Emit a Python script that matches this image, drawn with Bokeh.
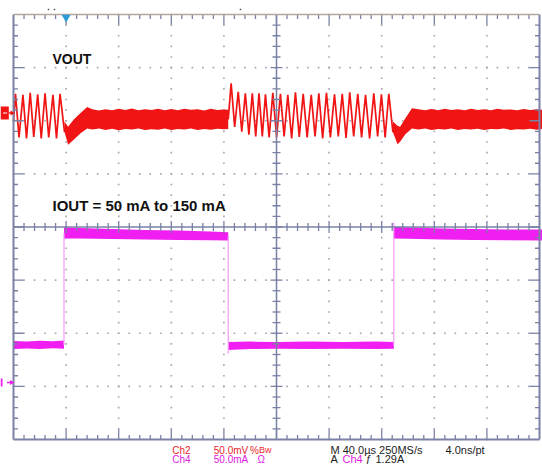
import numpy as np
from bokeh.plotting import figure
from bokeh.embed import file_html
from bokeh.resources import INLINE
from bokeh.core.properties import value

# ---------------- data ----------------
# time axis: µs (M 40.0 µs/div, 10 div); VOUT: mV rel. to Ch2 marker (50 mV/div)
# IOUT: mA rel. to Ch4 marker (50 mA/div)
T_PER_DIV = 40.0
V_PER_DIV = 50.0
I_PER_DIV = 50.0
CH2_POS = 2.146      # Ch2 marker position, divisions from centre
CH4_POS = -2.927     # Ch4 marker position, divisions from centre

# VOUT ripple before the load step (light-load ripple)
vout_rip1_t = [0, 1.5, 4.2, 7.2, 9.9, 12.7, 15.4, 18.4, 21.1, 24.0, 26.8, 30.0, 32.7, 35.4, 38.8]
vout_rip1_v = [-8, 18, -23, 17, -24, 19, -22.5, 17.5, -24, 18.5, -23, 17, -24, 18, -18]

# VOUT noise band after step up (upper / lower envelope)
vout_band1_t = [38.8, 41.5, 46, 51, 56, 60, 65, 70, 75, 80, 85, 90, 95, 100, 105, 110, 115,
                120, 125, 130, 135, 140, 145, 150, 155, 160, 163.3]
vout_band1_hi = [-8, -13, -6, 0, 5.6, 3.5, 2.4, 3.6, 2.6, 3.9, 2.8, 4.2, 2.5, 3.6, 2.9, 4.0, 2.7,
                 3.8, 2.6, 4.1, 3.0, 3.5, 2.4, 3.9, 2.8, 3.4, 3]
vout_band1_lo = [-18, -30, -25, -19, -14.5, -15.5, -14.6, -15.9, -14.8, -16.2, -15.0, -15.6,
                 -14.5, -16.0, -15.2, -15.8, -14.7, -16.1, -15.0, -15.5, -14.6, -15.9, -15.1,
                 -15.7, -14.8, -15.4, -15]

# VOUT overshoot + ripple after step down
vout_rip2_t = [163.3, 165.5, 168.2, 170.9, 173.6, 176.3, 179.0, 181.6, 184.2, 186.7,
               189.2, 191.6, 194.4, 197.2, 200.1, 203.0, 205.8, 208.6, 211.5, 214.4,
               217.3, 220.3, 223.3, 226.4, 229.3, 232.2, 235.1, 238.0, 241.0, 244.1,
               247.0, 250.0, 252.9, 255.7, 258.7, 261.8, 264.7, 267.7, 270.8, 274.0,
               276.9, 279.8, 282.6, 285.4, 288.5]
vout_rip2_v = [-6, 28, -13, 20, -17.5, 18.5, -20.5, 18.5, -22, 18.5,
               -22, 17.5, -23, 19, -23, 18, -22, 17, -24, 19.5,
               -22.5, 18, -23, 17, -22, 18.5, -24, 19, -23, 17.5,
               -22, 18, -23.5, 19.5, -22, 18, -23, 17, -24, 18.5,
               -22, 17.5, -23, 18, -18]

# VOUT noise band after second step up
vout_band2_t = [288.5, 292, 294, 298, 303, 308, 313, 318, 323, 328, 333, 338, 343, 348, 353,
                358, 363, 368, 373, 378, 383, 388, 393, 398, 402.3]
vout_band2_hi = [-8, -12, -13, -5, 4.4, 3.5, 2.6, 3.8, 2.7, 4.0, 2.9, 3.5, 2.5, 3.9, 2.8,
                 3.6, 2.6, 4.1, 3.0, 3.4, 2.7, 3.8, 2.9, 3.5, 3]
vout_band2_lo = [-18, -29.5, -27, -20, -14.5, -15.5, -14.7, -16.0, -15.0, -15.6, -14.6, -16.1,
                 -15.1, -15.5, -14.8, -15.9, -15.0, -15.4, -14.6, -16.0, -15.2, -15.6, -14.9,
                 -15.8, -15]

# IOUT bands (upper / lower envelope of the noisy level), mA
iout_low1_t = [0, 10, 20, 30, 38.4]
iout_low1_hi = [39, 38.5, 39.2, 38.8, 39.5]
iout_low1_lo = [31.5, 32, 31.6, 32.2, 31.8]
iout_high1_t = [38.4, 50, 75, 100, 125, 150, 163.3]
iout_high1_hi = [146, 145.5, 144.5, 143.5, 143, 142, 141.5]
iout_high1_lo = [135.5, 135.5, 135, 134.5, 134, 133.8, 133.6]
iout_low2_t = [163.3, 180, 200, 225, 250, 275, 289.2]
iout_low2_hi = [38, 38.5, 38, 38.5, 38, 38.5, 38.2]
iout_low2_lo = [30.5, 31.5, 31.8, 31.5, 31.8, 31.5, 31.7]
iout_high2_t = [289.2, 300, 325, 350, 375, 402.3]
iout_high2_hi = [146.5, 146, 145, 144.5, 144, 144]
iout_high2_lo = [135.5, 135.2, 134.5, 134, 133.8, 133.6]

# IOUT edges
iout_step_t = [38.4, 163.3, 289.2]
iout_step_from = [35, 138, 35]
iout_step_to = [141, 27, 150.6]

# graticule ticks
x_major = [0, 40, 80, 120, 160, 200, 240, 280, 320, 360, 400]
y_major = [-4, -3, -2, -1, 0, 1, 2, 3, 4]
MINOR_X = 8.0     # µs (5 minor per div)
MINOR_Y = 0.2     # div

TRIGGER_T = 40.0

# ---------------- geometry ----------------
W, H = 542, 464
PX_X = 526.0 / 400.0     # px per µs
PX_Y = 425.0 / 8.0       # px per div
GX0, GY0 = 13.0, 14.0    # graticule top-left in px
CY = GY0 + 4 * PX_Y      # centre line in px
x_lo, x_hi = -GX0 / PX_X, 400 + (W - GX0 - 526) / PX_X
y_hi, y_lo = 4 + GY0 / PX_Y, -4 - (H - GY0 - 425) / PX_Y


def tx(px):   # screen px -> µs
    return (px - GX0) / PX_X


def ty(py):   # screen px -> div
    return (CY - py) / PX_Y


p = figure(width=W, height=H, x_range=(x_lo, x_hi), y_range=(y_lo, y_hi),
           output_backend="svg", toolbar_location=None,
           x_axis_location=None, y_axis_location=None, min_border=0)
p.grid.visible = False
p.outline_line_color = None
p.background_fill_color = "white"
p.border_fill_color = "white"

RED = "#f01414"
MAG = "#f01ef0"
MAG_EDGE = "#f79af7"
GRID = "#7a81a5"
DOT = "#a7a9b4"


def vy(v):
    return CH2_POS + np.asarray(v, dtype=float) / V_PER_DIV


def iy(i):
    return CH4_POS + np.asarray(i, dtype=float) / I_PER_DIV


# ---------------- graticule dots ----------------
xm = np.arange(0, 400 + 1e-6, MINOR_X)
ym = np.arange(-4, 4 + 1e-6, MINOR_Y)
dx, dy = [], []
for yy in y_major:
    if yy in (-4, 0, 4):
        continue
    for xx in xm:
        dx.append(xx); dy.append(yy)
for xx in x_major:
    if xx in (0, 200, 400):
        continue
    for yy in ym:
        dx.append(xx); dy.append(yy)
p.scatter(dx, dy, marker="square", size=1.7, color=DOT, line_color=None)

# ---------------- traces ----------------
p.varea(x=iout_low1_t, y1=iy(iout_low1_lo), y2=iy(iout_low1_hi), fill_color=MAG)
p.varea(x=iout_high1_t, y1=iy(iout_high1_lo), y2=iy(iout_high1_hi), fill_color=MAG)
p.varea(x=iout_low2_t, y1=iy(iout_low2_lo), y2=iy(iout_low2_hi), fill_color=MAG)
p.varea(x=iout_high2_t, y1=iy(iout_high2_lo), y2=iy(iout_high2_hi), fill_color=MAG)
p.segment(x0=iout_step_t, y0=iy(iout_step_from), x1=iout_step_t, y1=iy(iout_step_to),
          line_color=MAG_EDGE, line_width=1.2)

p.line(vout_rip1_t, vy(vout_rip1_v), line_color=RED, line_width=1.7)
p.varea(x=vout_band1_t, y1=vy(vout_band1_lo), y2=vy(vout_band1_hi), fill_color=RED)
p.line(vout_rip2_t, vy(vout_rip2_v), line_color=RED, line_width=1.7)
p.varea(x=vout_band2_t, y1=vy(vout_band2_lo), y2=vy(vout_band2_hi), fill_color=RED)

# ---------------- graticule lines & ticks ----------------
def is_major(v):
    return abs(v - round(v)) < 1e-6

x0s, y0s, x1s, y1s = [], [], [], []
for yy in ym:
    if yy <= -4 + 1e-6 or yy >= 4 - 1e-6:
        continue
    L = (10 if is_major(yy) else 4.5) / PX_X
    x0s += [0, 400]; x1s += [L, 400 - L]; y0s += [yy, yy]; y1s += [yy, yy]
    h = (6 if is_major(yy) else 4) / PX_X
    x0s.append(200 - h); x1s.append(200 + h); y0s.append(yy); y1s.append(yy)
for xx in xm:
    if xx <= 1e-6 or xx >= 400 - 1e-6:
        continue
    L = (10 if is_major(xx / T_PER_DIV) else 4.5) / PX_Y
    x0s += [xx, xx]; x1s += [xx, xx]; y0s += [4, -4]; y1s += [4 - L, -4 + L]
    h = (6 if is_major(xx / T_PER_DIV) else 4) / PX_Y
    x0s.append(xx); x1s.append(xx); y0s.append(-h); y1s.append(h)
p.segment(x0=x0s, y0=y0s, x1=x1s, y1=y1s, line_color=GRID, line_width=1.3)

# centre cross
p.segment(x0=[0, 200], y0=[0, -4], x1=[400, 200], y1=[0, 4], line_color=GRID, line_width=1.5)
# border
p.segment(x0=[0, 400, 0], y0=[-4, -4, -4], x1=[0, 400, 400], y1=[4, 4, -4],
          line_color=GRID, line_width=2)
p.segment(x0=[0], y0=[4], x1=[400], y1=[4], line_color="#b3a6a0", line_width=1.5)

# ---------------- markers ----------------
# trigger position
p.scatter([TRIGGER_T], [ty(16.8)], marker="inverted_triangle", size=9,
          color="#2a9ad8", line_color=None)
# Ch2 marker box + arrow
p.quad(left=[tx(0)], right=[tx(8.3)], top=[ty(106)], bottom=[ty(119)],
       fill_color=RED, line_color=None)
p.segment(x0=[tx(2.5)], y0=[CH2_POS], x1=[tx(6.5)], y1=[CH2_POS], line_color="white", line_width=1.2)
p.segment(x0=[tx(8.3)], y0=[CH2_POS], x1=[tx(11)], y1=[CH2_POS], line_color=RED, line_width=1.5)
p.scatter([tx(11.5)], [CH2_POS], marker="triangle", angle=-np.pi / 2,
          size=5, color=RED, line_color=None)
# Ch4 marker arrow
p.quad(left=[tx(0)], right=[tx(2)], top=[ty(378)], bottom=[ty(386)],
       fill_color=MAG, line_color=None)
p.segment(x0=[tx(6.5)], y0=[CH4_POS], x1=[tx(10.5)], y1=[CH4_POS], line_color=MAG, line_width=1.5)
p.scatter([tx(11)], [CH4_POS], marker="triangle", angle=-np.pi / 2,
          size=5, color=MAG, line_color=None)
# tiny marks above the graticule
p.scatter([tx(48), tx(54), tx(240)], [ty(9)] * 3, marker="square", size=1.5,
          color="#555555", line_color=None)

# ---------------- texts ----------------
FONT = value("Liberation Sans")
p.text(x=[tx(52)], y=[ty(58)], text=["VOUT"], text_font=FONT,
       text_font_size="14px", text_font_style="bold", text_color="#111111",
       text_baseline="alphabetic", text_align="left")
p.text(x=[tx(52)], y=[ty(205)], text=["IOUT = 50 mA to 150 mA"], text_font=FONT,
       text_font_size="15px", text_font_style="bold", text_color="#111111",
       text_baseline="alphabetic", text_align="left")

row1 = ty(449.5)
row2 = ty(458.5)
BLK = "#1c1c1c"
TRED = "#e8242c"
TMAG = "#e020e0"
# channel settings (left group)
p.text(x=[tx(171.7), tx(213.3), tx(249.5), tx(171.7), tx(213.3), tx(257)],
       y=[row1, row1, row1, row2, row2, row2],
       text=["Ch2", "50.0mV", "%", "Ch4", "50.0mA", "Ω"],
       text_color=[TRED, TRED, TRED, TMAG, TMAG, TMAG], text_font=FONT,
       text_font_size="10px", text_baseline="alphabetic", text_align="left")
p.text(x=[tx(258.5)], y=[row1], text=["Bw"], text_color=TRED, text_font=FONT,
       text_font_size="9px", text_baseline="alphabetic", text_align="left")
# timebase / trigger (right group)
p.text(x=[tx(330), tx(445), tx(330), tx(342), tx(365), tx(375)],
       y=[row1, row1, row2, row2, row2, row2],
       text=["M 40.0µs 250MS/s", "4.0ns/pt", "A", "Ch4", "ƒ", "1.29A"],
       text_color=[BLK, BLK, BLK, TMAG, BLK, BLK], text_font=FONT,
       text_font_size="11px", text_baseline="alphabetic", text_align="left")

open("out.html", "w").write(file_html(p, INLINE))
